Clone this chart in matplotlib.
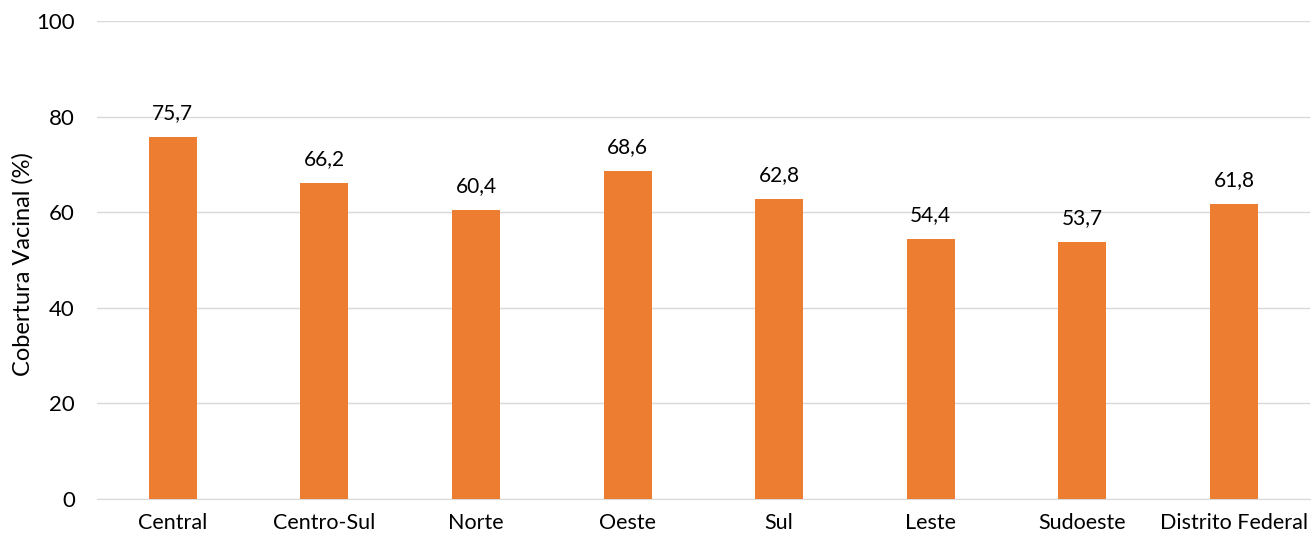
import matplotlib
matplotlib.use("Agg")
import matplotlib.pyplot as plt

regioes = ["Central", "Centro-Sul", "Norte", "Oeste", "Sul", "Leste", "Sudoeste", "Distrito Federal"]
cobertura = [75.7, 66.2, 60.4, 68.6, 62.8, 54.4, 53.7, 61.8]
yticks = [0, 20, 40, 60, 80, 100]

plt.rcParams['font.family'] = ['Lato', 'DejaVu Sans']

fig = plt.figure(figsize=(13.11, 5.4), dpi=100)
ax = fig.add_axes([0.074, 0.076, 0.925, 0.885])

x = range(len(regioes))
bars = ax.bar(x, cobertura, width=0.316, color="#ED7D31", zorder=3)

for b, v in zip(bars, cobertura):
    ax.text(b.get_x() + b.get_width() / 2, v + 2.9, f"{v:.1f}".replace(".", ","),
            ha="center", va="bottom", fontsize=15, color="#000000")

ax.set_xlim(-0.5, len(regioes) - 0.5)
ax.set_ylim(0, 100)
ax.set_yticks(yticks)
ax.set_xticks(list(x))
ax.set_xticklabels(regioes, fontsize=15.5)
ax.tick_params(axis="y", labelsize=16, length=0, pad=16)
ax.tick_params(axis="x", length=0, pad=10)
ax.yaxis.grid(True, color="#D9D9D9", linewidth=1, zorder=0)
for s in ["top", "right", "left"]:
    ax.spines[s].set_visible(False)
ax.spines["bottom"].set_color("#D9D9D9")

# y label placed like the original (left edge of the figure)
fig.text(23 / 1311, 1 - 264 / 540, "Cobertura Vacinal (%)", rotation=90,
         ha="center", va="center", fontsize=17)

fig.savefig("out.png", dpi=100)
